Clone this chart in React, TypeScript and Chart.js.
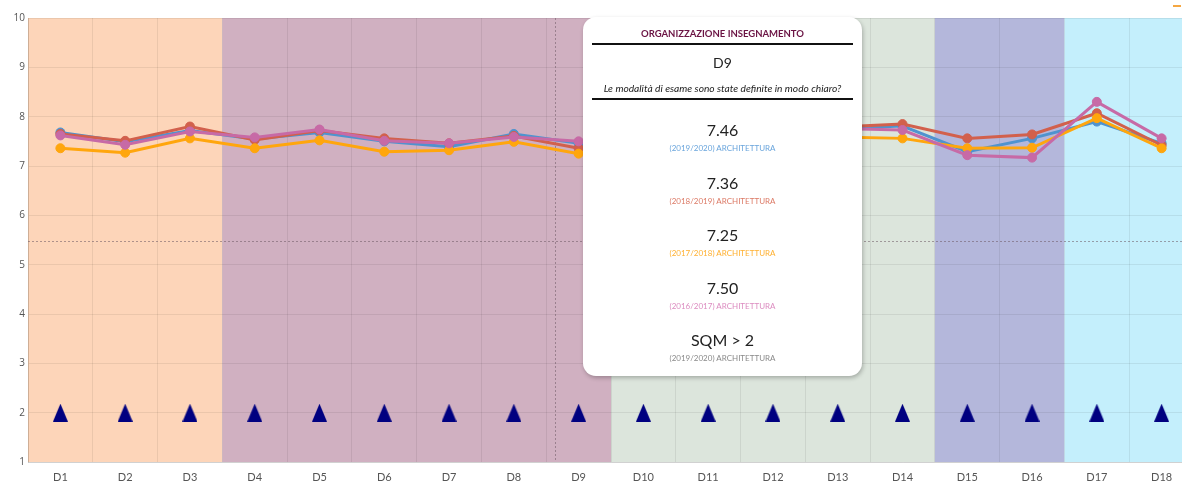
import React, { useEffect, useRef } from "react";
import { Chart, registerables } from "chart.js";

Chart.register(...registerables);

const categories = ["D1", "D2", "D3", "D4", "D5", "D6", "D7", "D8", "D9", "D10", "D11", "D12", "D13", "D14", "D15", "D16", "D17", "D18"];
const yTickValues = [1, 2, 3, 4, 5, 6, 7, 8, 9, 10];

const series2019 = [7.68, 7.49, 7.72, 7.55, 7.68, 7.5, 7.39, 7.65, 7.46, 7.55, 7.62, 7.7, 7.76, 7.81, 7.29, 7.56, 7.9, 7.46];
const series2018 = [7.65, 7.51, 7.8, 7.53, 7.72, 7.56, 7.46, 7.61, 7.36, 7.5, 7.6, 7.7, 7.79, 7.85, 7.56, 7.64, 8.07, 7.42];
const series2017 = [7.36, 7.27, 7.56, 7.36, 7.52, 7.29, 7.32, 7.49, 7.25, 7.4, 7.5, 7.55, 7.59, 7.56, 7.36, 7.37, 7.97, 7.36];
const series2016 = [7.62, 7.43, 7.7, 7.58, 7.74, 7.51, 7.46, 7.59, 7.5, 7.6, 7.65, 7.7, 7.76, 7.73, 7.22, 7.17, 8.3, 7.56];
const sqmMarkers = [2, 2, 2, 2, 2, 2, 2, 2, 2, 2, 2, 2, 2, 2, 2, 2, 2, 2];

const seriesLabels = ["(2019/2020) ARCHITETTURA", "(2018/2019) ARCHITETTURA", "(2017/2018) ARCHITETTURA", "(2016/2017) ARCHITETTURA"];
const seriesColors = ["#4f93cf", "#d2604c", "#ffa60d", "#c76aa6"];
const seriesLabelColors = ["#6aa5dc", "#dc7a66", "#ffb030", "#dc8cc0"];

const bandStarts = ["D1", "D4", "D10", "D15", "D17"];
const bandEnds = ["D3", "D9", "D14", "D16", "D18"];
const bandColors = ["#fdd5b9", "#d0b0c1", "#dce5dc", "#b4b7db", "#c4effc"];

const crosshairIndex = 7.64;
const crosshairValue = 5.48;

const tooltipTitle = "ORGANIZZAZIONE INSEGNAMENTO";
const tooltipIndex = 8;
const tooltipQuestion = "Le modalità di esame sono state definite in modo chiaro?";
const sqmText = "SQM > 2";
const sqmLabel = "(2019/2020) ARCHITETTURA";

const FONT = "Lato, 'Open Sans', sans-serif";

const bandsPlugin = {
  id: "bands",
  beforeDraw(chart: any) {
    const { ctx, chartArea, scales } = chart;
    const x = scales.x;
    const half = (x.getPixelForValue(1) - x.getPixelForValue(0)) / 2;
    ctx.save();
    for (let i = 0; i < bandStarts.length; i++) {
      const s = categories.indexOf(bandStarts[i]);
      const e = categories.indexOf(bandEnds[i]);
      const x0 = x.getPixelForValue(s) - half;
      const x1 = x.getPixelForValue(e) + half;
      ctx.fillStyle = bandColors[i];
      ctx.fillRect(x0, chartArea.top, x1 - x0, chartArea.bottom - chartArea.top);
    }
    ctx.restore();
  },
  beforeDatasetsDraw(chart: any) {
    const { ctx, chartArea, scales } = chart;
    const px = scales.x.getPixelForValue(crosshairIndex);
    const py = scales.y.getPixelForValue(crosshairValue);
    ctx.save();
    ctx.strokeStyle = "rgba(110,90,100,0.55)";
    ctx.lineWidth = 1;
    ctx.setLineDash([2, 2]);
    ctx.beginPath();
    ctx.moveTo(Math.round(px) + 0.5, chartArea.top);
    ctx.lineTo(Math.round(px) + 0.5, chartArea.bottom);
    ctx.moveTo(chartArea.left, Math.round(py) + 0.5);
    ctx.lineTo(chartArea.right, Math.round(py) + 0.5);
    ctx.stroke();
    ctx.restore();
  },
};

function makeTriangle() {
  const c = document.createElement("canvas");
  c.width = 15;
  c.height = 18;
  const g = c.getContext("2d")!;
  g.fillStyle = "#000080";
  g.beginPath();
  g.moveTo(7.5, 0);
  g.lineTo(15, 18);
  g.lineTo(0, 18);
  g.closePath();
  g.fill();
  return c;
}

export default function App() {
  const canvasRef = useRef<HTMLCanvasElement | null>(null);

  useEffect(() => {
    if (!canvasRef.current) return;
    const tri = makeTriangle();
    const all = [series2019, series2018, series2017, series2016];
    const orders = [4, 3, 2, 1];
    const lineSets = all.map((d, i) => ({
      type: "line" as const,
      label: seriesLabels[i],
      data: d,
      borderColor: seriesColors[i],
      backgroundColor: seriesColors[i],
      pointBackgroundColor: seriesColors[i],
      pointBorderColor: seriesColors[i],
      borderWidth: 3,
      pointRadius: 4.5,
      pointBorderWidth: 1,
      tension: 0,
      fill: false,
      order: orders[i],
    }));
    const chart = new Chart(canvasRef.current, {
      type: "line",
      data: {
        labels: categories,
        datasets: [
          ...lineSets,
          {
            type: "line" as const,
            label: "SQM > 2",
            data: sqmMarkers,
            showLine: false,
            pointStyle: tri as any,
            pointRadius: 8,
            backgroundColor: "#000080",
            borderColor: "#000080",
            order: 0,
          },
        ],
      },
      options: {
        animation: false,
        responsive: true,
        maintainAspectRatio: false,
        layout: { padding: { top: 18, left: 0, right: 0, bottom: 0 } },
        plugins: { legend: { display: false }, tooltip: { enabled: false } },
        scales: {
          x: {
            offset: true,
            grid: { offset: true, color: "rgba(0,0,0,0.07)", drawTicks: false },
            border: { color: "rgba(0,0,0,0.12)" },
            ticks: { color: "#555", font: { family: FONT, size: 11 }, padding: 9, maxRotation: 0, autoSkip: false },
            afterFit: (s: any) => {
              s.height = 22;
            },
          },
          y: {
            min: 1,
            max: 10,
            afterBuildTicks: (s: any) => {
              s.ticks = yTickValues.map((v) => ({ value: v }));
            },
            grid: { color: "rgba(0,0,0,0.07)", drawTicks: false },
            border: { color: "rgba(0,0,0,0.12)" },
            ticks: { color: "#555", font: { family: "'Open Sans', sans-serif", size: 10 }, padding: 3 },
            afterFit: (s: any) => {
              s.width = 28;
            },
          },
        },
      },
      plugins: [bandsPlugin],
    });
    return () => chart.destroy();
  }, []);

  const values = [series2019, series2018, series2017, series2016].map((d) => d[tooltipIndex]);

  return (
    <div style={{ position: "absolute", left: 0, top: 0, width: 1182, height: 484, overflow: "hidden", background: "#fff" }}>
      <div style={{ position: "absolute", left: 0, top: 0, width: 1203, height: 484 }}>
        <canvas ref={canvasRef} />
      </div>
      <div style={{ position: "absolute", left: 1173, top: 5, width: 8, height: 2, background: "#f5a742" }} />
      <div
        style={{
          position: "absolute",
          left: 583,
          top: 17,
          width: 279,
          height: 359,
          background: "#fff",
          borderRadius: 13,
          boxShadow: "1px 2px 4px rgba(0,0,0,0.25)",
          fontFamily: FONT,
          color: "#222",
          textAlign: "center",
        }}
      >
        <div style={{ position: "absolute", left: 0, right: 0, top: 10, lineHeight: "14px", fontSize: 9.5, fontWeight: 700, color: "#6b1444" }}>
          {tooltipTitle}
        </div>
        <div style={{ position: "absolute", left: 9, right: 9, top: 26, height: 2, background: "#111" }} />
        <div style={{ position: "absolute", left: 0, right: 0, top: 37, lineHeight: "18px", fontSize: 14 }}>{categories[tooltipIndex]}</div>
        <div style={{ position: "absolute", left: 0, right: 0, top: 64, lineHeight: "14px", fontSize: 10.2, fontStyle: "italic" }}>
          {tooltipQuestion}
        </div>
        <div style={{ position: "absolute", left: 9, right: 9, top: 81, height: 2, background: "#111" }} />
        {values.map((v, i) => (
          <div key={i} style={{ position: "absolute", left: 0, right: 0, top: 102 + i * 52.6 }}>
            <div style={{ lineHeight: "22px", fontSize: 16 }}>{v.toFixed(2)}</div>
            <div style={{ lineHeight: "12px", fontSize: 8, color: seriesLabelColors[i], marginTop: 1 }}>{seriesLabels[i]}</div>
          </div>
        ))}
        <div style={{ position: "absolute", left: 0, right: 0, top: 102 + 4 * 52.6 }}>
          <div style={{ lineHeight: "22px", fontSize: 16 }}>{sqmText}</div>
          <div style={{ lineHeight: "12px", fontSize: 8, color: "#8a8a8a", marginTop: 1 }}>{sqmLabel}</div>
        </div>
      </div>
    </div>
  );
}
